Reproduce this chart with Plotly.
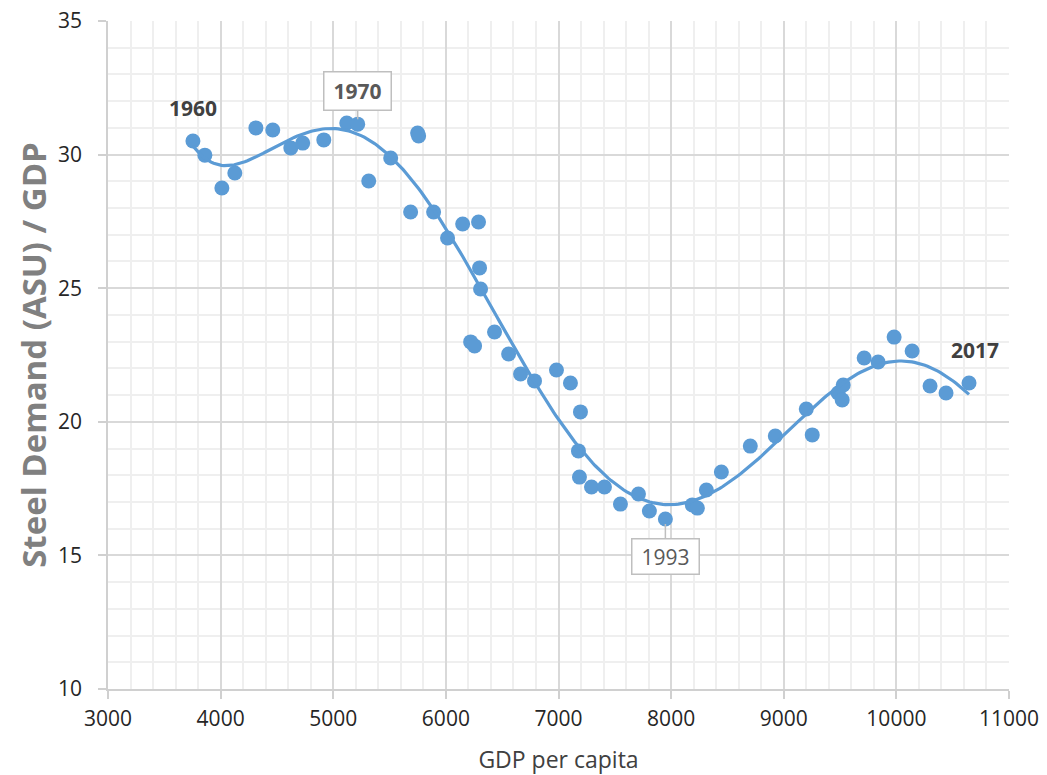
import numpy as np
import plotly.graph_objects as go

# GDP per capita (x) and steel demand / GDP (y)
gdp = [3754, 3860, 4011, 4126, 4313, 4463, 4623, 4729, 4916, 5120, 5217, 5315,
       5510, 5749, 5758, 5687, 5891, 6015, 6149, 6290, 6299, 6308, 6220, 6255,
       6432, 6557, 6663, 6787, 6982, 7106, 7195, 7177, 7186, 7293, 7408, 7550,
       7710, 7807, 7949, 8188, 8233, 8313, 8446, 8703, 8925, 9200, 9253, 9483,
       9528, 9519, 9714, 9838, 9980, 10140, 10299, 10441, 10645]
steel = [30.51, 29.98, 28.75, 29.31, 31.00, 30.92, 30.25, 30.43, 30.55, 31.18,
         31.14, 29.01, 29.87, 30.81, 30.70, 27.85, 27.85, 26.88, 27.40, 27.48,
         25.76, 24.97, 22.99, 22.84, 23.36, 22.54, 21.79, 21.53, 21.94, 21.45,
         20.37, 18.91, 17.93, 17.56, 17.56, 16.92, 17.30, 16.66, 16.36, 16.89,
         16.77, 17.45, 18.12, 19.09, 19.47, 20.48, 19.51, 21.08, 21.38, 20.82,
         22.39, 22.24, 23.17, 22.65, 21.34, 21.08, 21.45]

x_ticks = [3000, 4000, 5000, 6000, 7000, 8000, 9000, 10000, 11000]
y_ticks = [10, 15, 20, 25, 30, 35]

BLUE = "#5B9BD5"
FONT = "Open Sans"

# polynomial trendline (as in the spreadsheet chart), fitted to the data
coef = np.polyfit(gdp, steel, 6)
xs = np.linspace(min(gdp), max(gdp), 300)
ys = np.polyval(coef, xs)

fig = go.Figure()
fig.add_trace(go.Scatter(x=gdp, y=steel, mode="markers",
                         marker=dict(color=BLUE, size=15, line=dict(width=0)),
                         showlegend=False, hoverinfo="x+y"))
fig.add_trace(go.Scatter(x=xs, y=ys, mode="lines",
                         line=dict(color=BLUE, width=3.2),
                         showlegend=False, hoverinfo="skip"))

ann_font_bold = dict(family=FONT, size=21, color="#404040")
fig.add_annotation(x=gdp[0], y=steel[0], text="<b>1960</b>", showarrow=False,
                   yshift=33, font=ann_font_bold)
fig.add_annotation(x=gdp[-1], y=steel[-1], text="<b>2017</b>", showarrow=False,
                   yshift=33, xshift=6, font=ann_font_bold)
fig.add_annotation(x=gdp[10], y=steel[10], text="<b>1970</b>", showarrow=True,
                   arrowhead=0, arrowwidth=1.5, arrowcolor="#bfbfbf",
                   ax=0, ay=-33, standoff=5, width=58, height=29,
                   bgcolor="white", bordercolor="#bfbfbf", borderwidth=1.5,
                   borderpad=4, font=dict(family=FONT, size=21, color="#595959"))
fig.add_annotation(x=gdp[38], y=steel[38], text="1993", showarrow=True,
                   arrowhead=0, arrowwidth=1.5, arrowcolor="#bfbfbf",
                   ax=0, ay=37, standoff=5, width=58, height=26,
                   bgcolor="white", bordercolor="#bfbfbf", borderwidth=1.5,
                   borderpad=4, font=dict(family=FONT, size=21, color="#595959"))

fig.update_layout(
    width=1047, height=775,
    margin=dict(l=108, r=38, t=21, b=86, autoexpand=False),
    paper_bgcolor="white", plot_bgcolor="white",
    font=dict(family=FONT, size=21, color="#262626"),
    xaxis=dict(range=[3000, 11000], tickvals=x_ticks,
               ticktext=[str(v) for v in x_ticks], automargin=False,
               ticklabeloverflow="allow", ticklabelstandoff=2,
               showgrid=True, gridcolor="#d9d9d9", gridwidth=1.5,
               minor=dict(dtick=200, showgrid=True, gridcolor="#efefef", gridwidth=1.5),
               showline=True, linecolor="#d0d0d0", linewidth=1.5,
               ticks="outside", ticklen=8, tickcolor="#d0d0d0", tickwidth=1.5,
               zeroline=False,
               title=dict(text="GDP per capita", font=dict(family=FONT, size=23, color="#404040"),
                          standoff=31)),
    yaxis=dict(range=[10, 35], tickvals=y_ticks,
               ticktext=[str(v) for v in y_ticks], automargin=False,
               ticklabeloverflow="allow", ticklabelstandoff=12,
               showgrid=True, gridcolor="#d9d9d9", gridwidth=1.5,
               minor=dict(dtick=1, showgrid=True, gridcolor="#efefef", gridwidth=1.5),
               showline=True, linecolor="#d0d0d0", linewidth=1.5,
               ticks="outside", ticklen=8, tickcolor="#d0d0d0", tickwidth=1.5,
               zeroline=False,
               title=dict(text="<b>Steel Demand (ASU) / GDP</b>",
                          font=dict(family=FONT, size=33, color="#808080"),
                          standoff=1)),
)

# remove the default page margin so the figure sits at the window's corner
fig.write_html("out.html", config={"displayModeBar": False},
               post_script="document.body.style.margin='0';document.body.style.overflow='hidden';")
